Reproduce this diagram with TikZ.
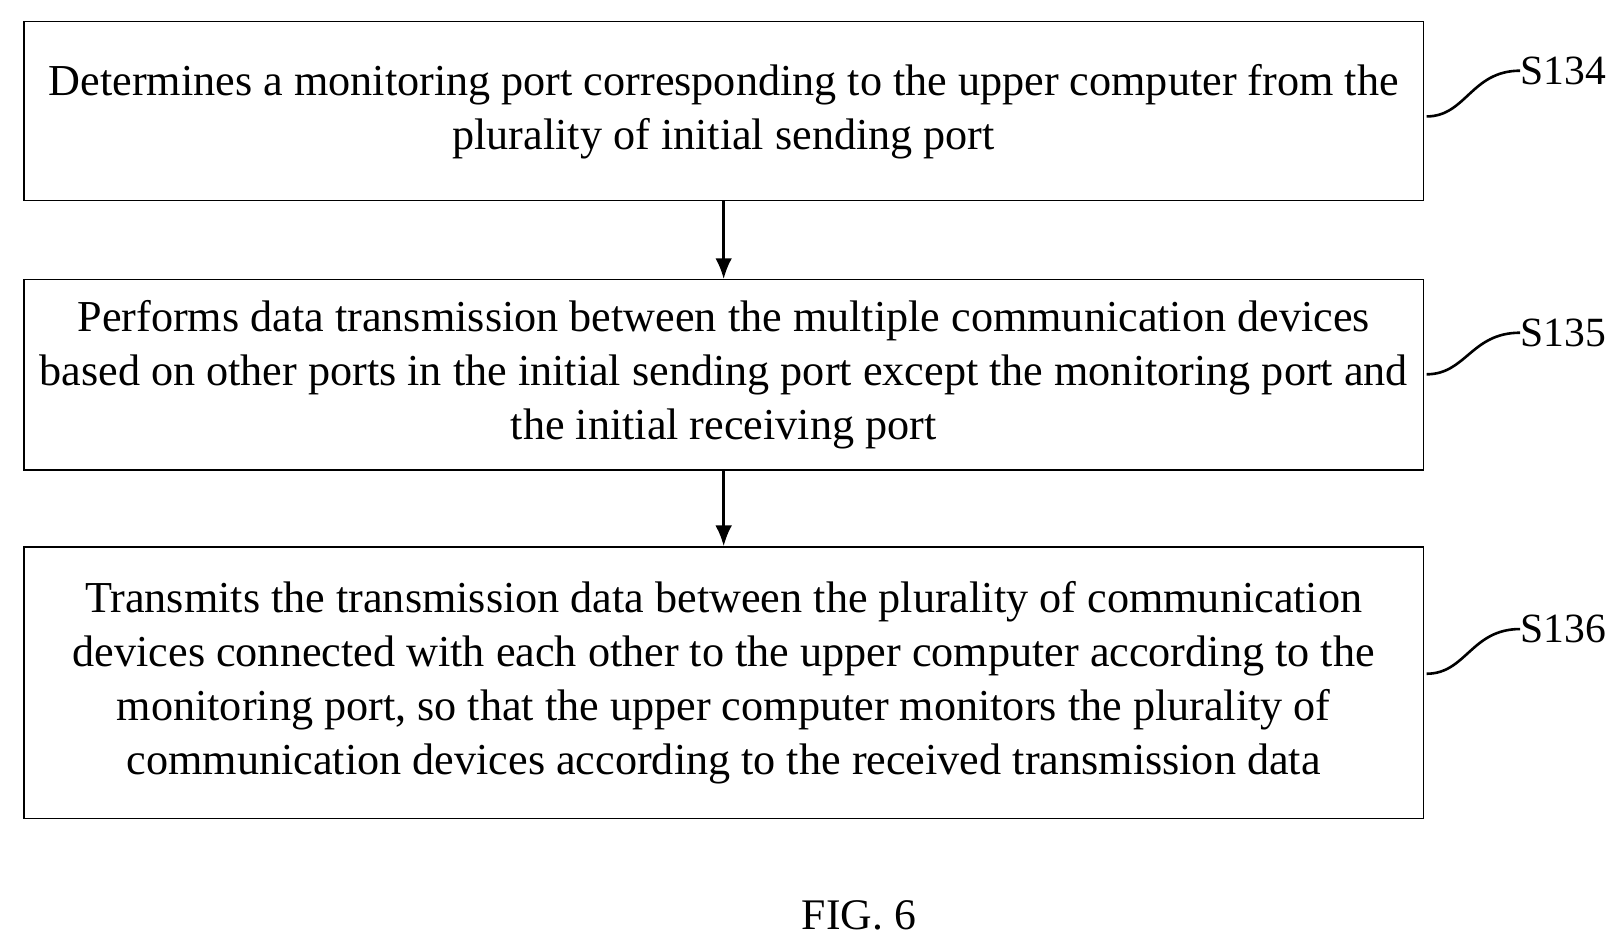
\documentclass[tikz,border=0pt]{standalone}
\usepackage{fontspec}
\setmainfont{Liberation Serif}
\usetikzlibrary{arrows.meta}
\begin{document}
\begin{tikzpicture}[x=1pt,y=-1pt,
 box/.style={draw,line width=1.2pt,minimum width=1346pt,align=center,font=\fontsize{42.5}{52}\selectfont,inner sep=0pt},
 lab/.style={font=\fontsize{40}{40}\selectfont,anchor=west,inner sep=0pt},
 arr/.style={-{Latex[length=20pt,width=16pt]},line width=2.5pt},
 lead/.style={line width=2.5pt}]
\useasboundingbox (0,0) rectangle (1560,909);
\node[box,minimum height=172pt] (b1) at (696,107) {Determines a monitoring port corresponding to the upper computer from the\\plurality of initial sending port};
\node[box,minimum height=183pt] (b2) at (696,360.5) {Performs data transmission between the multiple communication devices\\based on other ports in the initial sending port except the monitoring port and\\the initial receiving port};
\node[box,minimum height=261pt] (b3) at (696,656.5) {Transmits the transmission data between the plurality of communication\\devices connected with each other to the upper computer according to the\\monitoring port, so that the upper computer monitors the plurality of\\communication devices according to the received transmission data};
\draw[arr] (b1.south) -- (b2.north);
\draw[arr] (b2.south) -- (b3.north);
\node[lab] (l1) at (1462,68) {S134};
\node[lab] (l2) at (1462,320) {S135};
\node[lab] (l3) at (1462,605) {S136};
\coordinate (c1) at (1372,112);
\coordinate (c2) at (1372,360);
\coordinate (c3) at (1372,648);
\draw[lead] (c1) .. controls (1410,112) and (1415,68) .. (l1.west);
\draw[lead] (c2) .. controls (1410,360) and (1415,320) .. (l2.west);
\draw[lead] (c3) .. controls (1410,648) and (1415,605) .. (l3.west);
\node[font=\fontsize{42}{44}\selectfont] (fig) at (826,880) {FIG. 6};
\end{tikzpicture}
\end{document}
